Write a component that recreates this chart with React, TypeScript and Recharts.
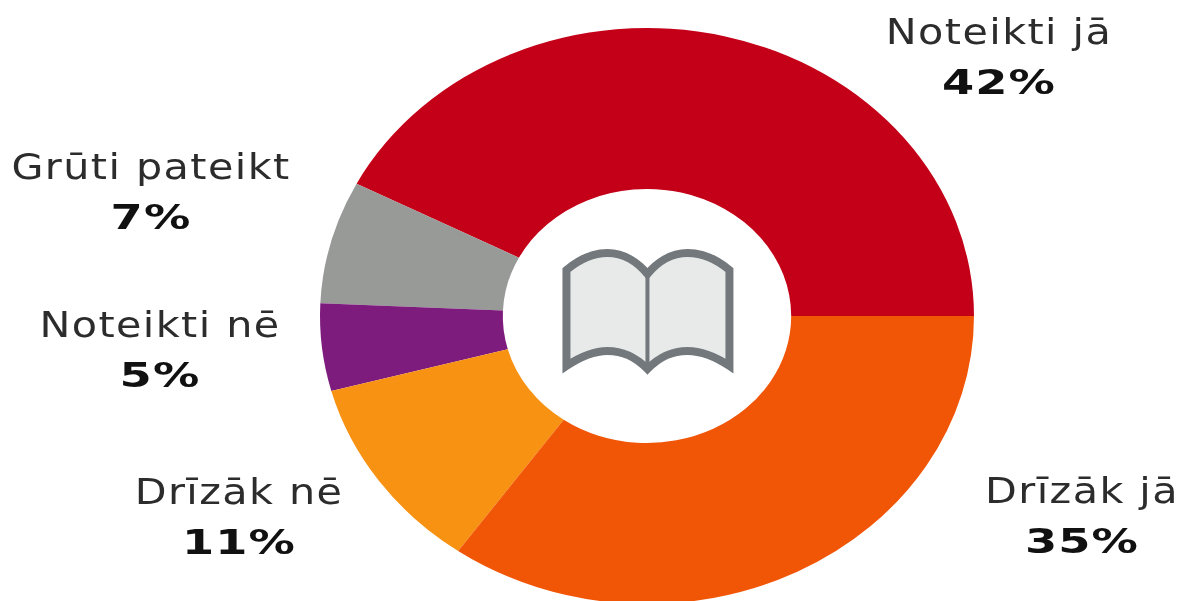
import React from "react";
import { PieChart, Pie, Cell } from "recharts";

const categories = ["Noteikti jā", "Grūti pateikt", "Noteikti nē", "Drīzāk nē", "Drīzāk jā"];
const shares = [42.4, 6.9, 4.9, 11, 34.8];
const colors = ["#c40018", "#989a98", "#7e1c7e", "#f79213", "#f15607"];
const percentLabels = ["42%", "7%", "5%", "11%", "35%"];

const SX = 327 / 288;
const W = 1183 / SX;
const H = 601;
const CX = 647 / SX;
const CY = 316;
// label centres in page pixels
const labelCentres = [
  [999, 32],
  [151, 167],
  [160, 325],
  [239, 492],
  [1082, 491],
];

const data = categories.map((name, i) => ({ name, value: shares[i], pct: percentLabels[i] }));

const renderLabel = (p: any) => {
  const [x, y] = labelCentres[p.index];
  return (
    <g fontFamily="'DejaVu Sans', sans-serif" textAnchor="middle">
      <text transform={`translate(${x / SX},${y + 12}) scale(1.04,1)`} fontSize={35} letterSpacing={1.2} fill="#2c2c2c">
        {p.payload.name}
      </text>
      <text transform={`translate(${x / SX},${y + 62}) scale(1.2,1)`} fontSize={34} letterSpacing={0.8} fontWeight="bold" fill="#111">
        {p.payload.pct}
      </text>
    </g>
  );
};

export default function App() {
  return (
    <div style={{ position: "absolute", left: 0, top: 0, width: W, height: H, transform: `scaleX(${SX})`, transformOrigin: "0 0", background: "#fff", filter: "blur(0.5px)" }}>
      <PieChart width={W} height={H} margin={{ top: 0, right: 0, bottom: 0, left: 0 }}>
        <Pie
          data={data}
          dataKey="value"
          nameKey="name"
          cx={CX}
          cy={CY}
          innerRadius={127}
          outerRadius={288}
          startAngle={0}
          endAngle={360}
          stroke="none"
          isAnimationActive={false}
          label={renderLabel}
          labelLine={false}
        >
          {data.map((d, i) => (
            <Cell key={d.name} fill={colors[i]} />
          ))}
        </Pie>
      </PieChart>
      <svg style={{ position: "absolute", left: 540 / SX, top: 230 }} width={220 / SX} height={160} viewBox="540 230 220 160" preserveAspectRatio="none">
        <path
          d="M647 369 C634 356 622 351 607 351 C592 351 578 358 566 366 L566 270 C578 260 592 253 607 253 C624 253 638 263 647 274 C656 263 670 253 687 253 C702 253 717 260 729 270 L729 366 C717 358 702 351 687 351 C672 351 660 356 647 369 Z"
          fill="#e8eae9"
          stroke="#73787c"
          strokeWidth="8"
          strokeLinejoin="miter"
        />
        <path d="M647 274 L647 369" stroke="#73787c" strokeWidth="4" />
      </svg>
    </div>
  );
}
